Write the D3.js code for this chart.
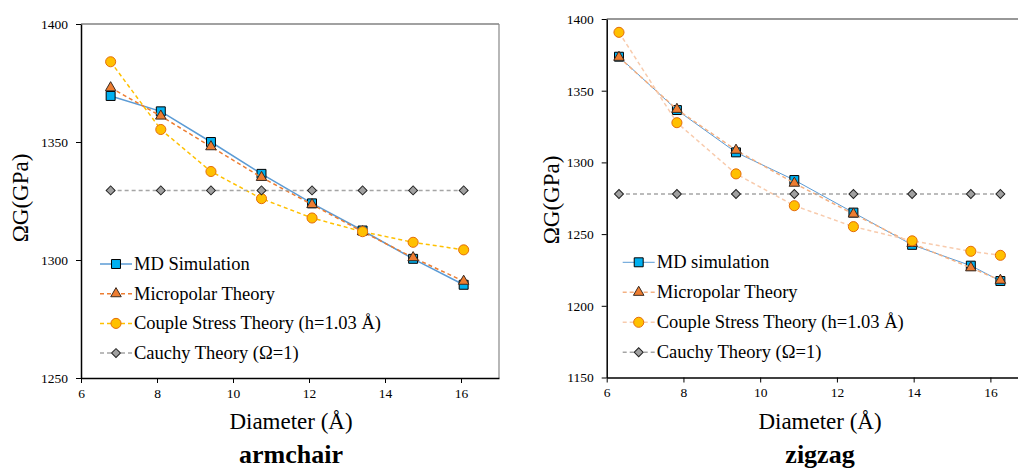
<!DOCTYPE html>
<meta charset="utf-8">
<style>
body { margin: 0; background: #fff; }
svg text { font-family: "Liberation Serif", "Times New Roman", serif; fill: #000; }
.axis path, .axis line { stroke: #000; }
.axis text { font-size: 13.5px; }
</style>
<body>
<script src="https://cdn.jsdelivr.net/npm/d3@7"></script>
<script>
// armchair (left)
var armD = [6.78, 8.1, 9.42, 10.75, 12.08, 13.41, 14.74, 16.07];
var armMD = [1369.5, 1363, 1350, 1336.5, 1324, 1312.5, 1300.5, 1289.5];
var armMicro = [1373, 1361, 1348, 1335, 1323.5, 1312, 1301, 1291];
var armCouple = [1384, 1355.3, 1337.5, 1326, 1317.8, 1312, 1307.5, 1304.3];
var armCauchy = [1329.5, 1329.5, 1329.5, 1329.5, 1329.5, 1329.5, 1329.5, 1329.5];

// zigzag (right)
var zigD = [6.32, 7.83, 9.37, 10.89, 12.43, 13.96, 15.49, 16.26];
var zigMD = [1373.7, 1336.5, 1307, 1287.7, 1265, 1242.5, 1228, 1217.3];
var zigMicro = [1373.3, 1337, 1308.5, 1285.5, 1264, 1243.5, 1226.5, 1217.8];
var zigCouple = [1390.7, 1327.7, 1292, 1269.8, 1255.2, 1245.3, 1238, 1235.2];
var zigCauchy = [1278, 1278, 1278, 1278, 1278, 1278, 1278, 1278];

var armNames = ["MD Simulation", "Micropolar Theory", "Couple Stress Theory (h=1.03 \u00C5)", "Cauchy Theory (\u03A9=1)"];
var zigNames = ["MD simulation", "Micropolar Theory", "Couple Stress Theory (h=1.03 \u00C5)", "Cauchy Theory (\u03A9=1)"];

var xTicks = [6, 8, 10, 12, 14, 16];
var armYTicks = [1250, 1300, 1350, 1400];
var zigYTicks = [1150, 1200, 1250, 1300, 1350, 1400];

var svg = d3.select("body").append("svg")
    .attr("width", 1018)
    .attr("height", 471);

var markers = [
  {sym: d3.symbolSquare, size: 80, fill: "#00B0F0", stroke: "#000", rot: 0},
  {sym: d3.symbolTriangle, size: 48, fill: "#ED7D31", stroke: "#3a2a20", rot: 0},
  {sym: d3.symbolCircle, size: 80, fill: "#FFC000", stroke: "#E46C0A", rot: 0},
  {sym: d3.symbolSquare, size: 40, fill: "#A0A0A0", stroke: "#222", rot: 45}
];

function drawChart(cfg) {
  var x = d3.scaleLinear().domain([6, 17]).range([cfg.left, cfg.left + 11 * cfg.unit]);
  var y = d3.scaleLinear().domain(cfg.yDomain).range([cfg.bottom, cfg.top]);
  var g = svg.append("g");

  // frame top / right
  g.append("line")
    .attr("x1", x(6)).attr("x2", x(17))
    .attr("y1", cfg.top).attr("y2", cfg.top)
    .attr("stroke", cfg.frameTop).attr("stroke-width", 1.2);
  g.append("line")
    .attr("x1", x(17)).attr("x2", x(17))
    .attr("y1", cfg.top).attr("y2", cfg.bottom)
    .attr("stroke", "#888").attr("stroke-width", 1.2);

  g.append("g").attr("class", "axis")
    .attr("transform", "translate(0," + cfg.bottom + ")")
    .call(d3.axisBottom(x).tickValues(xTicks).tickFormat(d3.format("d"))
      .tickSize(5).tickPadding(5).tickSizeOuter(0))
    .attr("font-family", null);
  g.append("g").attr("class", "axis")
    .attr("transform", "translate(" + cfg.left + ",0)")
    .call(d3.axisLeft(y).tickValues(cfg.yTicks).tickFormat(d3.format("d"))
      .tickSize(5).tickPadding(8).tickSizeOuter(0))
    .attr("font-family", null);
  g.selectAll(".axis path").attr("stroke-width", 1.5);

  cfg.series.forEach(function(vals, k) {
    var pts = cfg.xs.map(function(d, i) { return [d, vals[i]]; });
    g.append("path")
      .datum(pts)
      .attr("fill", "none")
      .attr("stroke", cfg.lineColors[k])
      .attr("stroke-width", cfg.lineWidths[k])
      .attr("stroke-dasharray", k === 0 ? null : "4,3")
      .attr("d", d3.line().x(function(d) { return x(d[0]); }).y(function(d) { return y(d[1]); }));
    var m = markers[k];
    g.selectAll(".m" + k)
      .data(pts)
      .enter().append("path")
      .attr("d", d3.symbol().type(m.sym).size(m.size))
      .attr("transform", function(d) { return "translate(" + x(d[0]) + "," + y(d[1]) + ") rotate(" + m.rot + ")"; })
      .attr("fill", m.fill)
      .attr("stroke", m.stroke)
      .attr("stroke-width", 1);
  });

  // legend
  cfg.names.forEach(function(name, k) {
    var ly = cfg.legY + k * cfg.legGap;
    var m = markers[k];
    g.append("line")
      .attr("x1", cfg.legX).attr("x2", cfg.legX + 32)
      .attr("y1", ly).attr("y2", ly)
      .attr("stroke", cfg.lineColors[k])
      .attr("stroke-width", cfg.lineWidths[k])
      .attr("stroke-dasharray", k === 0 ? null : "4,3");
    g.append("path")
      .attr("d", d3.symbol().type(m.sym).size(m.size))
      .attr("transform", "translate(" + (cfg.legX + 16) + "," + ly + ") rotate(" + m.rot + ")")
      .attr("fill", m.fill)
      .attr("stroke", m.stroke)
      .attr("stroke-width", 1);
    g.append("text")
      .attr("x", cfg.legX + 34)
      .attr("y", ly + 6)
      .style("font-size", "18.5px")
      .text(name);
  });

  g.append("text")
    .attr("transform", "translate(" + cfg.yTitleX + "," + cfg.yTitleY + ") rotate(-90)")
    .attr("text-anchor", "middle")
    .attr("dy", "0.35em")
    .style("font-size", "23px")
    .text("\u03A9G(GPa)");
  g.append("text")
    .attr("x", cfg.xTitleX).attr("y", 429)
    .attr("text-anchor", "middle")
    .style("font-size", "23px")
    .text("Diameter (\u00C5)");
  g.append("text")
    .attr("x", cfg.xTitleX).attr("y", 463)
    .attr("text-anchor", "middle")
    .style("font-size", "26px")
    .style("font-weight", "bold")
    .text(cfg.title);
}

drawChart({
  left: 81, unit: 38, top: 24, bottom: 378, yDomain: [1250, 1400], yTicks: armYTicks,
  xs: armD, series: [armMD, armMicro, armCouple, armCauchy], names: armNames,
  lineColors: ["#5B9BD5", "#ED7D31", "#FFC000", "#A5A5A5"],
  lineWidths: [1.5, 1.5, 1.5, 1.5],
  frameTop: "#444",
  legX: 100, legY: 264, legGap: 29.7,
  yTitleX: 20, yTitleY: 198, xTitleX: 291, title: "armchair"
});

drawChart({
  left: 606.7, unit: 38.37, top: 19, bottom: 377.5, yDomain: [1150, 1400], yTicks: zigYTicks,
  xs: zigD, series: [zigMD, zigMicro, zigCouple, zigCauchy], names: zigNames,
  lineColors: ["#5B9BD5", "#F4B183", "#F8CBAD", "#A5A5A5"],
  lineWidths: [1, 1.5, 1.5, 1.5],
  frameTop: "#333",
  legX: 622.7, legY: 262.3, legGap: 30,
  yTitleX: 551, yTitleY: 200, xTitleX: 820, title: "zigzag"
});
</script>
</body>
